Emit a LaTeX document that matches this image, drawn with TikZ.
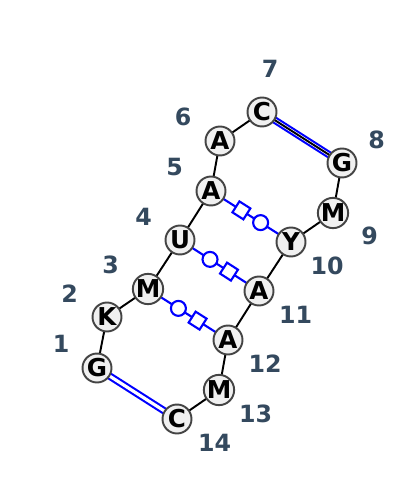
\documentclass[tikz,border=0pt]{standalone}
\usepackage{fontspec}
\setmainfont{DejaVu Sans}

\definecolor{numcol}{HTML}{34495E}
\definecolor{ringcol}{HTML}{444444}
\definecolor{basefill}{HTML}{F0F0F0}

\begin{document}
\begin{tikzpicture}[x=0.02cm,y=-0.02cm,
    base/.style={circle,draw=ringcol,fill=basefill,line width=1.1pt,
      minimum size=0.58cm,inner sep=0pt,font=\fontsize{14}{14}\selectfont\bfseries},
    num/.style={text=numcol,inner sep=0pt,font=\fontsize{13.5}{13.5}\selectfont\bfseries},
    backbone/.style={line width=1.1pt},
    wc/.style={draw=blue,line width=1.2pt,double=white,double distance=1.8pt},
    nc/.style={draw=blue,line width=1.2pt},
    sqmark/.style={draw=blue,fill=white,line width=1.2pt,rectangle,
      minimum size=0.26cm,inner sep=0pt,sloped},
    circmark/.style={draw=blue,fill=white,line width=1.2pt,circle,
      minimum size=0.3cm,inner sep=0pt}]

   \useasboundingbox (0,0) rectangle (400,492);

   % pairs first, backbone on top
   \coordinate (p1)  at (97,368);
   \coordinate (p2)  at (107,317);
   \coordinate (p3)  at (148,289);
   \coordinate (p4)  at (180,240);
   \coordinate (p5)  at (211,191);
   \coordinate (p6)  at (220,141);
   \coordinate (p7)  at (262,112);
   \coordinate (p8)  at (342,163);
   \coordinate (p9)  at (333,213);
   \coordinate (p10) at (291,242);
   \coordinate (p11) at (259,291);
   \coordinate (p12) at (228,340);
   \coordinate (p13) at (219,390);
   \coordinate (p14) at (177,419);

   \draw[wc] (p1) -- (p14);
   \draw[wc] (p7) -- (p8);
   \draw[nc] (p5) -- node[sqmark,pos=.38] {} node[circmark,pos=.62] {} (p10);
   \draw[nc] (p4) -- node[circmark,pos=.38] {} node[sqmark,pos=.62] {} (p11);
   \draw[nc] (p3) -- node[circmark,pos=.38] {} node[sqmark,pos=.62] {} (p12);

   \draw[backbone] (p1) -- (p2) -- (p3) -- (p4) -- (p5) -- (p6) -- (p7)
      -- (p8) -- (p9) -- (p10) -- (p11) -- (p12) -- (p13) -- (p14);

   \node[base] (b1)  at (p1)  {G};
   \node[base] (b2)  at (p2)  {K};
   \node[base] (b3)  at (p3)  {M};
   \node[base] (b4)  at (p4)  {U};
   \node[base] (b5)  at (p5)  {A};
   \node[base] (b6)  at (p6)  {A};
   \node[base] (b7)  at (p7)  {C};
   \node[base] (b8)  at (p8)  {G};
   \node[base] (b9)  at (p9)  {M};
   \node[base] (b10) at (p10) {Y};
   \node[base] (b11) at (p11) {A};
   \node[base] (b12) at (p12) {A};
   \node[base] (b13) at (p13) {M};
   \node[base] (b14) at (p14) {C};

   \node[num] (n1)  at (61,344)   {1};
   \node[num] (n2)  at (69.5,294) {2};
   \node[num] (n3)  at (110.5,265) {3};
   \node[num] (n4)  at (143.5,217) {4};
   \node[num] (n5)  at (174.5,167) {5};
   \node[num] (n6)  at (183,117)  {6};
   \node[num] (n7)  at (270,69)   {7};
   \node[num] (n8)  at (376.5,139.5) {8};
   \node[num] (n9)  at (369.5,236) {9};
   \node[num] (n10) at (327,266)  {10};
   \node[num] (n11) at (295.5,315) {11};
   \node[num] (n12) at (265,364)  {12};
   \node[num] (n13) at (255.5,413.5) {13};
   \node[num] (n14) at (214.5,442.5) {14};
\end{tikzpicture}
\end{document}
